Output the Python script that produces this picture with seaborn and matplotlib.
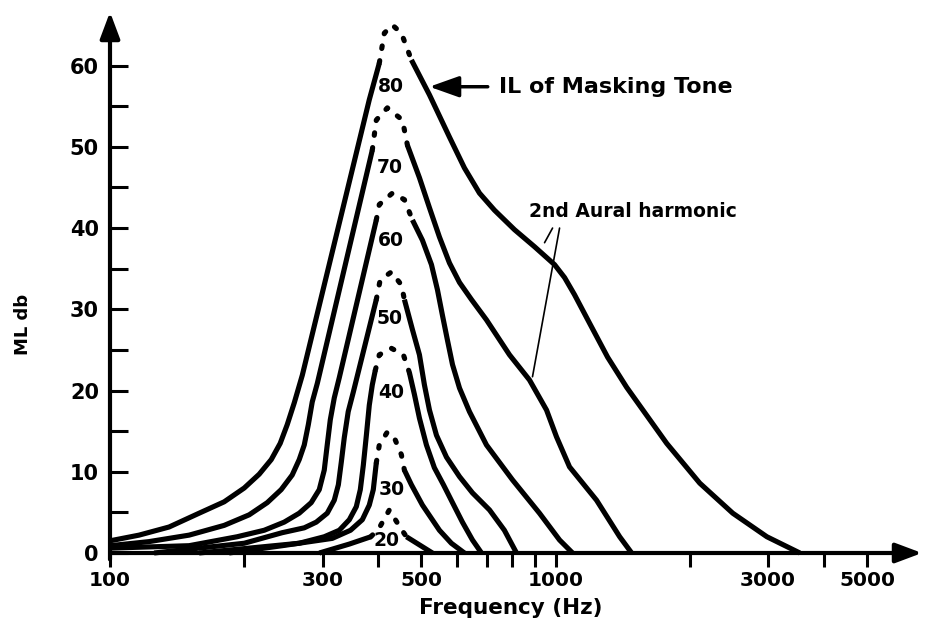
import numpy as np
import pandas as pd
import matplotlib
matplotlib.use("Agg")
import matplotlib.pyplot as plt
import seaborn as sns

# ---------------- data ----------------
levels = [20, 30, 40, 50, 60, 70, 80]

hz20 = [295, 344.5, 385, 402.2, 423.6, 448.5, 462.7, 494.9, 529.3]
db20 = [0.0, 1.1, 2.0, 3.1, 5.3, 3.1, 2.0, 1.0, 0.0]

hz30 = [185.1, 243.5, 315.4, 346.6, 368.4, 381.9, 389.9, 396, 402.2, 419.3, 436.9, 450.8, 457.9, 474.8, 502.6, 548.8, 583.7, 624.5]
db30 = [0.0, 0.9, 1.8, 2.8, 4.1, 5.9, 7.8, 11.1, 13.3, 14.9, 13.9, 12.1, 10.2, 8.4, 5.9, 2.8, 1.2, 0.0]

hz40 = [158.5, 205.3, 265.9, 302.6, 327.1, 344.5, 357.1, 364.6, 370.3, 376.2, 381.9, 387.9, 394.0, 402.2, 428.1, 455.5, 469.9, 482.3, 494.9, 513.1, 534.6, 560.3, 587.1, 618.0, 651.0, 682.1]
db40 = [0.0, 0.6, 1.2, 2.0, 2.8, 4.1, 5.7, 7.8, 10.8, 14.5, 18.2, 20.7, 22.5, 24.4, 25.2, 24.4, 22.2, 19.5, 16.6, 13.3, 10.5, 8.4, 6.2, 3.8, 1.6, 0.0]

hz50 = [125.6, 158.5, 200.1, 243.5, 272.9, 290.4, 307.3, 318.7, 325.5, 330.5, 335.6, 342.5, 351.6, 396, 404, 428.1, 450.8, 457.9, 477.3, 494.9, 507.8, 521.2, 540.4, 569.1, 608.8, 651.0, 710.9, 767.7, 817.4]
db50 = [0.0, 0.6, 1.2, 2.5, 3.1, 3.8, 4.9, 6.5, 8.4, 11.2, 14.2, 17.4, 19.8, 31.2, 33.6, 34.6, 33.0, 31.2, 27.5, 24.4, 20.7, 17.6, 14.5, 11.8, 9.4, 7.4, 5.3, 2.8, 0.0]

hz60 = [100, 150.5, 192.9, 221.9, 246.0, 265.9, 282.9, 294.9, 302.6, 307.3, 312.2, 318.7, 327.1, 396, 402.2, 430.3, 457.9, 477.3, 502.6, 526.6, 543.2, 557.2, 572.0, 587.1, 608.8, 640.9, 699.8, 800.6, 920.4, 1021, 1092]
db60 = [0.6, 0.9, 2.0, 2.8, 3.8, 4.9, 6.2, 7.8, 10.2, 13.3, 16.4, 19.1, 21.6, 41.0, 42.9, 44.3, 43.5, 41.0, 38.5, 35.5, 32.4, 29.3, 26.2, 23.2, 20.3, 17.4, 13.3, 9.0, 4.9, 1.6, 0.0]

hz70 = [100, 122.3, 150.5, 180.4, 205.3, 225.4, 242.2, 256.4, 265.9, 272.9, 278.7, 284.4, 292.0, 387.9, 396, 419.3, 453.2, 465.1, 494.9, 521.2, 548.8, 578, 608.8, 647.6, 699.8, 788.2, 874, 954.5, 1005, 1075, 1236, 1393, 1482]
db70 = [0.9, 1.4, 2.2, 3.4, 4.7, 6.2, 7.8, 9.6, 11.5, 13.3, 15.8, 18.6, 20.9, 49.6, 53.3, 54.8, 53.3, 50.2, 46.2, 42.5, 38.9, 35.7, 33.3, 31.2, 28.7, 24.4, 21.3, 17.6, 14.3, 10.6, 6.5, 2.0, 0.0]

hz80 = [100, 116.2, 135.7, 158.5, 180.4, 200.1, 216.2, 230.1, 241.0, 249.9, 259.2, 270.2, 381.9, 402.2, 412.8, 430.3, 450.8, 474.8, 521.2, 578, 624.5, 675.0, 729.4, 809.0, 897.3, 994.9, 1048, 1103, 1192, 1309, 1444, 1776, 2107, 2499, 2981, 3535]
db80 = [1.5, 2.2, 3.2, 4.9, 6.3, 8.0, 9.7, 11.5, 13.5, 15.8, 18.5, 21.9, 55.8, 60.3, 64.0, 65.0, 64.0, 60.7, 56.4, 51.2, 47.4, 44.3, 42.2, 39.8, 37.7, 35.5, 33.9, 31.8, 28.3, 24.1, 20.4, 13.5, 8.6, 4.9, 2.0, 0.0]

# dotted (beat) region of each curve, in Hz
cap_start_hz = [385, 396, 394.0, 396, 396, 387.9, 402.2]
cap_end_hz = [462.7, 457.9, 469.9, 457.9, 477.3, 465.1, 474.8]

x_ticks = [100, 200, 300, 400, 500, 600, 700, 800, 900, 1000, 2000, 3000, 4000, 5000]
x_tick_labels = ["100", "", "300", "", "500", "", "", "", "", "1000", "", "3000", "", "5000"]
y_ticks = [0, 5, 10, 15, 20, 25, 30, 35, 40, 45, 50, 55, 60]
y_tick_labels = ["0", "", "10", "", "20", "", "30", "", "40", "", "50", "", "60"]

curves_hz = [hz20, hz30, hz40, hz50, hz60, hz70, hz80]
curves_db = [db20, db30, db40, db50, db60, db70, db80]

# ---------------- long-form table ----------------
rows = []
for lev, hz, db, cs, ce in zip(levels, curves_hz, curves_db, cap_start_hz, cap_end_hz):
    for h, d in zip(hz, db):
        if h <= cs:
            rows.append((lev, "left", h, d))
        if cs <= h <= ce:
            rows.append((lev, "cap", h, d))
        if h >= ce:
            rows.append((lev, "right", h, d))
df = pd.DataFrame(rows, columns=["level", "part", "hz", "db"])

# ---------------- figure ----------------
sns.set_style("white")
plt.rcParams["font.family"] = ["DejaVu Sans"]
plt.rcParams["font.weight"] = "bold"
plt.rcParams["text.color"] = "black"
plt.rcParams["axes.labelcolor"] = "black"
plt.rcParams["xtick.color"] = "black"
plt.rcParams["ytick.color"] = "black"

W, H = 927, 625
fig = plt.figure(figsize=(W / 100, H / 100), dpi=100)
x0, x1, y0, y1 = 110, 922, 553, 12
ax = fig.add_axes([x0 / W, 1 - y0 / H, (x1 - x0) / W, (y0 - y1) / H])
ax.set_xscale("log")
ax.set_xlim(100, 6645)
ax.set_ylim(0, 66.6)

lw = 3.7
for (lev, part), g in df.groupby(["level", "part"], sort=False):
    if part == "cap":
        sns.lineplot(data=g, x="hz", y="db", sort=False, estimator=None, ax=ax,
                     color="black", lw=lw, linestyle=(0, (0.5, 2.4)),
                     dash_capstyle="round", clip_on=False, legend=False)
    else:
        sns.lineplot(data=g, x="hz", y="db", sort=False, estimator=None, ax=ax,
                     color="black", lw=lw, solid_capstyle="butt",
                     solid_joinstyle="round", clip_on=False, legend=False)

# level labels
label_hz = [417, 428, 428, 424, 428, 424, 428]
label_db = [1.5, 7.8, 19.7, 28.9, 38.5, 47.5, 57.4]
for lev, h, d in zip(levels, label_hz, label_db):
    ax.text(h, d, str(lev), ha="center", va="center", fontsize=13.5,
            fontweight="bold", color="black")

# annotations
ax.annotate("IL of Masking Tone", xy=(521, 57.4), xytext=(748, 57.4),
            ha="left", va="center", fontsize=16, fontweight="bold",
            arrowprops=dict(arrowstyle="-|>,head_length=0.9,head_width=0.32",
                            mutation_scale=20, lw=2.5, color="black",
                            shrinkA=6, shrinkB=0))
ax.text(874, 42.0, "2nd Aural harmonic", ha="left", va="center",
        fontsize=13.5, fontweight="bold")
ax.plot([1021, 887.7], [40.0, 21.7], color="black", lw=1.2)
ax.plot([984.7, 944.8], [40.0, 38.2], color="black", lw=1.2)

# axes styling
for s in ax.spines.values():
    s.set_visible(False)
ax.annotate("", xy=(1, 0), xytext=(0, 0), xycoords="axes fraction",
            arrowprops=dict(arrowstyle="-|>,head_length=0.8,head_width=0.3",
                            mutation_scale=20, lw=3, color="black",
                            shrinkA=0, shrinkB=0))
ax.annotate("", xy=(0, 1), xytext=(0, -0.012), xycoords="axes fraction",
            arrowprops=dict(arrowstyle="-|>,head_length=0.8,head_width=0.3",
                            mutation_scale=20, lw=3, color="black",
                            shrinkA=0, shrinkB=0))

ax.set_xticks(x_ticks)
ax.set_xticklabels(x_tick_labels)
ax.xaxis.set_minor_locator(matplotlib.ticker.NullLocator())
ax.set_yticks(y_ticks)
ax.set_yticklabels(y_tick_labels)
ax.tick_params(axis="x", direction="out", length=10, width=2.2, pad=3,
               labelsize=14.5, bottom=True)
ax.tick_params(axis="y", direction="in", length=13, width=2.2, pad=8,
               labelsize=15, left=True)
for t in ax.get_xticklabels() + ax.get_yticklabels():
    t.set_fontweight("bold")

ax.set_xlabel("Frequency (Hz)", fontsize=15.5, fontweight="bold")
ax.set_ylabel("ML db", fontsize=13, fontweight="bold")
ax.xaxis.set_label_coords((511 - x0) / (x1 - x0), (y0 - 608) / (y0 - y1))
ax.xaxis.label.set_va("center")
ax.yaxis.set_label_coords((23 - x0) / (x1 - x0), (y0 - 324) / (y0 - y1))
ax.yaxis.label.set_va("center")
ax.grid(False)

fig.savefig("out.png", dpi=100)
